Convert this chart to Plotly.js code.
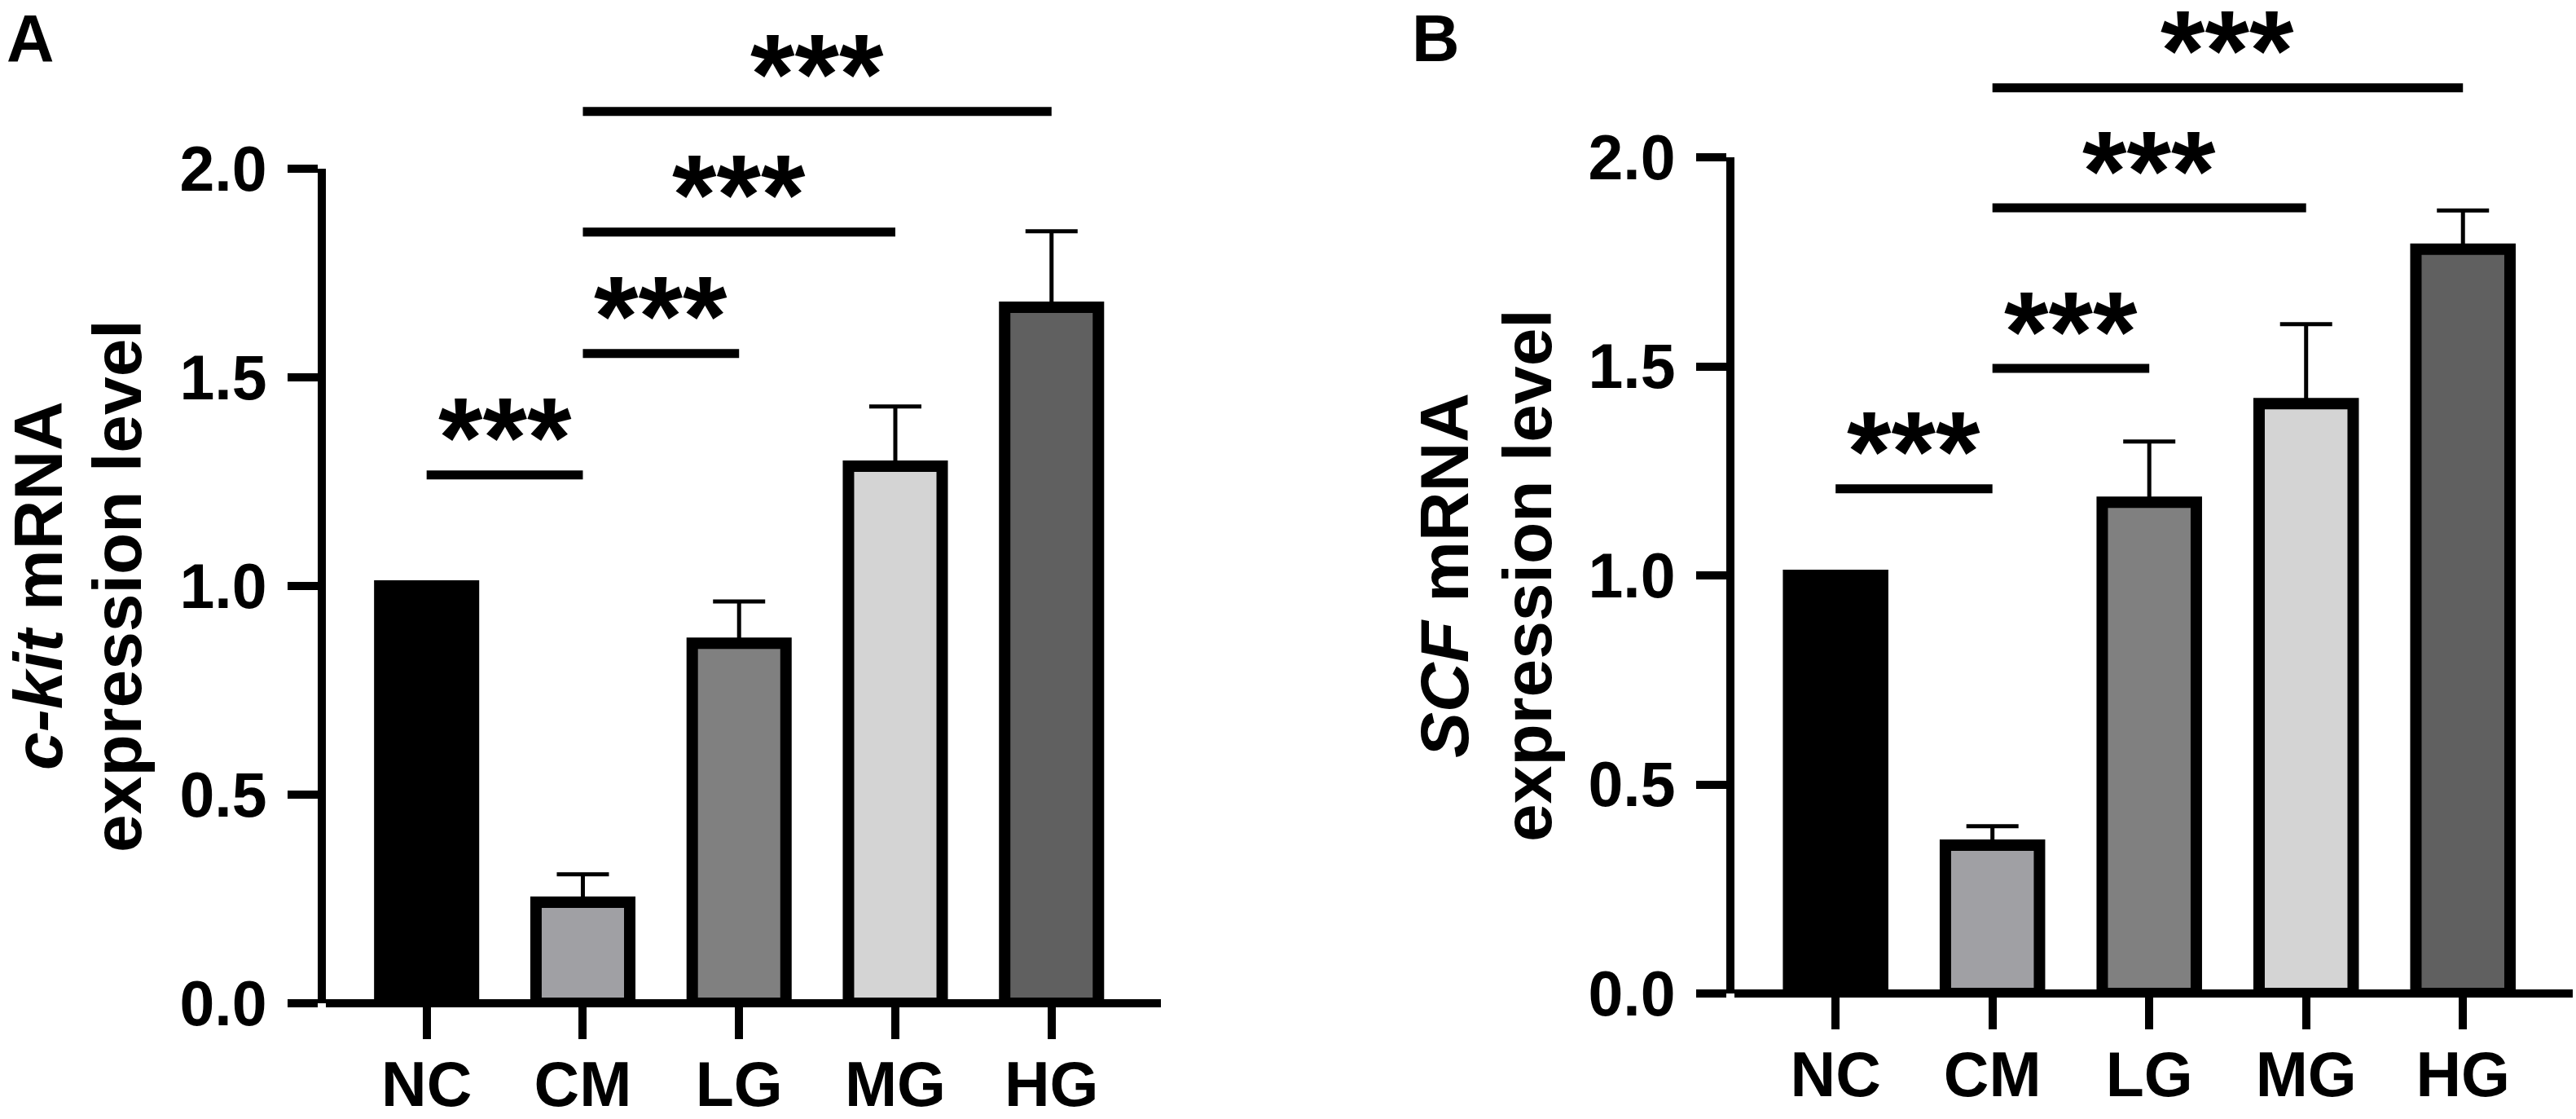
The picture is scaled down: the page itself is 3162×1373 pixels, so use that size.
<!DOCTYPE html>
<html>
<head>
<meta charset="utf-8">
<script src="https://cdn.plot.ly/plotly-3.0.1.min.js"></script>
<style>
  html, body { margin: 0; padding: 0; background: #fff; }
  #chart { width: 3162px; height: 1373px; }
</style>
</head>
<body>
<div id="chart"></div>
<script>
// groups on the x axis
const categories = ["NC", "CM", "LG", "MG", "HG"];
const barColors = ["#000000", "#a0a0a4", "#808080", "#d4d4d4", "#606060"];

// panel A: c-kit mRNA, mean and upper error (SD)
const ckitMean = [1.0, 0.242, 0.863, 1.287, 1.668];
const ckitErr = [0, 0.067, 0.10, 0.143, 0.182];
// panel B: SCF mRNA
const scfMean = [1.0, 0.355, 1.175, 1.411, 1.78];
const scfErr = [0, 0.045, 0.145, 0.19, 0.093];

// significance brackets: [from, to, height]
const ckitBrackets = [["NC", "CM", 1.266], ["CM", "LG", 1.557], ["CM", "MG", 1.848], ["CM", "HG", 2.137]];
const scfBrackets = [["NC", "CM", 1.207], ["CM", "LG", 1.495], ["CM", "MG", 1.879], ["CM", "HG", 2.166]];
const sigLabel = "***";

const yTickVals = [0, 0.5, 1.0, 1.5, 2.0];
const yTickText = ["0.0", "0.5", "1.0", "1.5", "2.0"];

const W = 3162, H = 1373;
const FONT = "Liberation Sans, Arial, Helvetica, sans-serif";
const xRange = [-0.645, 4.70];
const yMax = 2.0;

const px = (x) => x / W;
const py = (y) => 1 - y / H;

const panels = [
    {letter: "A", gene: "<i>c-kit</i> mRNA", mean: ckitMean, err: ckitErr, brackets: ckitBrackets,
     left: 400, right: 1425, zero: 1231, top: 207, title1: 47, title2: 144, letterX: 6},
    {letter: "B", gene: "<i>SCF</i> mRNA", mean: scfMean, err: scfErr, brackets: scfBrackets,
     left: 2129, right: 3158, zero: 1219, top: 193, title1: 1773, title2: 1875, letterX: 1731}
];

const traces = [];
const annotations = [];
const layout = {
    width: W, height: H,
    margin: {l: 0, r: 0, t: 0, b: 0},
    paper_bgcolor: "#fff", plot_bgcolor: "rgba(0,0,0,0)",
    showlegend: false,
    bargap: 0.4,
    font: {family: FONT, color: "#000"}
};

panels.forEach((p, i) => {
    const n = i + 1;
    const bx = n === 1 ? "x" : "x" + n;
    const by = n === 1 ? "y" : "y" + n;
    const ox = "x" + (n + 2), oy = "y" + (n + 2);
    const xDom = [px(p.left), px(p.right)];
    const yDom = [py(p.zero), py(p.top)];

    traces.push({
        type: "bar", x: categories, y: p.mean, xaxis: bx, yaxis: by,
        marker: {color: barColors, line: {color: "#000", width: 14}},
        error_y: {type: "data", symmetric: false, array: p.err, arrayminus: p.err.map(() => 0),
                  color: "#000", thickness: 5, width: 32},
        hoverinfo: "skip"
    });

    layout["xaxis" + (n === 1 ? "" : n)] = {
        domain: xDom, anchor: by, type: "category", range: xRange,
        showline: false, showgrid: false, zeroline: false,
        ticks: "outside", ticklen: 43, tickwidth: 10, tickcolor: "#000",
        tickfont: {family: FONT, size: 77, weight: "bold", color: "#000"},
        ticklabelstandoff: -10
    };
    layout["yaxis" + (n === 1 ? "" : n)] = {
        domain: yDom, anchor: bx, range: [0, yMax],
        showline: true, linewidth: 10, linecolor: "#000",
        showgrid: false, zeroline: true, zerolinewidth: 10, zerolinecolor: "#000",
        tickvals: yTickVals, ticktext: yTickText,
        ticks: "outside", ticklen: 37, tickwidth: 10, tickcolor: "#000",
        tickfont: {family: FONT, size: 77, weight: "bold", color: "#000"},
        ticklabelstandoff: 10
    };

    // overlay axes with the same scale, reaching to the top of the page, for the brackets
    const ovTop = yMax * (1 - yDom[0]) / (yDom[1] - yDom[0]);
    layout["xaxis" + (n + 2)] = {domain: xDom, anchor: oy, range: xRange, visible: false, fixedrange: true};
    layout["yaxis" + (n + 2)] = {domain: [yDom[0], 1], anchor: ox, range: [0, ovTop], visible: false, fixedrange: true};

    p.brackets.forEach(([a, b, h]) => {
        const i0 = categories.indexOf(a), i1 = categories.indexOf(b);
        traces.push({
            type: "scatter", mode: "lines", x: [i0, i1], y: [h, h], xaxis: ox, yaxis: oy,
            line: {color: "#000", width: 11}, hoverinfo: "skip"
        });
        annotations.push({
            xref: ox, yref: oy, x: (i0 + i1) / 2, y: h, text: sigLabel, showarrow: false,
            xanchor: "center", yanchor: "middle", yshift: 46,
            font: {family: FONT, size: 140, weight: "bold", color: "#000"}
        });
    });

    // axis title in two lines
    const yMid = py((p.zero + p.top) / 2);
    [[p.gene, p.title1], ["expression level", p.title2]].forEach(([t, x]) => {
        annotations.push({
            xref: "paper", yref: "paper", x: px(x), y: yMid, text: t, showarrow: false,
            textangle: -90, xanchor: "center", yanchor: "middle",
            font: {family: FONT, size: 84, weight: "bold", color: "#000"}
        });
    });

    // panel letter
    annotations.push({
        xref: "paper", yref: "paper", x: px(p.letterX), y: py(47), text: p.letter, showarrow: false,
        xanchor: "left", yanchor: "middle",
        font: {family: FONT, size: 81, weight: "bold", color: "#000"}
    });
});

layout.annotations = annotations;

Plotly.newPlot("chart", traces, layout, {staticPlot: true, displayModeBar: false});
</script>
</body>
</html>
